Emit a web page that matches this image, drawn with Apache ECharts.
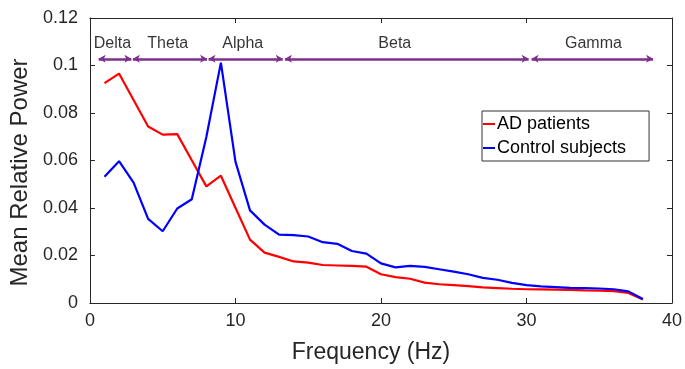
<!DOCTYPE html>
<html>
<head>
<meta charset="utf-8">
<script src="https://cdn.jsdelivr.net/npm/echarts@6/dist/echarts.min.js"></script>
<style>html,body{margin:0;padding:0;background:#fff}#c{width:685px;height:369px}</style>
</head>
<body>
<div id="c"></div>
<script>
var frequencies = [1,2,3,4,5,6,7,8,9,10,11,12,13,14,15,16,17,18,19,20,21,22,23,24,25,26,27,28,29,30,31,32,33,34,35,36,37,38];
var adPatients = [0.0926,0.0966,0.0855,0.0743,0.0709,0.0711,0.0601,0.0491,0.0536,0.0401,0.0267,0.0212,0.0194,0.0175,0.0170,0.0160,0.0158,0.0156,0.0153,0.0121,0.0109,0.0102,0.0086,0.0079,0.0075,0.0071,0.0066,0.0063,0.0060,0.0058,0.0057,0.0056,0.0055,0.0053,0.0052,0.0050,0.0042,0.0015];
var controlSubjects = [0.0532,0.0597,0.0507,0.0354,0.0302,0.0398,0.0437,0.0699,0.1012,0.0595,0.0390,0.0330,0.0288,0.0286,0.0280,0.0256,0.0249,0.0219,0.0208,0.0167,0.0150,0.0156,0.0152,0.0142,0.0132,0.0121,0.0106,0.0098,0.0085,0.0075,0.0070,0.0067,0.0064,0.0063,0.0061,0.0058,0.0049,0.0017];
var bandNames = ['Delta','Theta','Alpha','Beta','Gamma'];
var bandStart = [0.6, 2.95, 8.15, 13.4, 30.35];
var bandEnd = [2.85, 8.05, 13.25, 30.15, 38.7];
var bandLabelX = [1.55, 5.35, 10.5, 20.95, 34.6];
var seriesNames = ['AD patients','Control subjects'];

var arrowY = 0.1028, labelY = 0.1094;
var FONT = '"Liberation Sans", Arial, Helvetica, sans-serif';
var AX = '#262626';

function pairs(xs, ys){ return xs.map(function(x,i){ return [x, ys[i]]; }); }

var chart = echarts.init(document.getElementById('c'), null, {renderer:'canvas'});
function axisCommon(extra){
  return Object.assign({
    axisLine:{show:true, onZero:false, lineStyle:{color:AX, width:1}},
    axisTick:{show:true, inside:true, length:5, lineStyle:{color:AX}},
    splitLine:{show:false}
  }, extra);
}
chart.setOption({
  animation:false,
  backgroundColor:'#fff',
  grid:{left:89, top:18, width:587, height:288, containLabel:false},
  legend:{
    data:seriesNames,
    orient:'vertical',
    left:482, top:111,
    icon:'rect', itemWidth:12, itemHeight:2, itemGap:0,
    padding:[1,23,1,1],
    backgroundColor:'#fff', borderColor:'#333', borderWidth:1,
    textStyle:{fontFamily:FONT, fontSize:18, color:'#000', lineHeight:24, padding:[0,0,0,-3]},
    selectedMode:false
  },
  xAxis:[
    axisCommon({
      type:'value', min:0, max:40, interval:10, position:'bottom',
      axisLabel:{fontFamily:FONT, fontSize:18, color:AX, margin:9},
      name:'Frequency (Hz)', nameLocation:'middle', nameGap:38,
      nameTextStyle:{fontFamily:FONT, fontSize:23, color:AX, padding:[0,20,0,0]}
    }),
    axisCommon({
      type:'value', min:0, max:40, interval:10, position:'top',
      axisLabel:{show:false}
    })
  ],
  yAxis:[
    axisCommon({
      type:'value', min:0, max:0.12, interval:0.02, position:'left',
      axisLabel:{fontFamily:FONT, fontSize:18, color:AX, margin:12},
      name:'Mean Relative Power', nameLocation:'middle', nameGap:50,
      nameTextStyle:{fontFamily:FONT, fontSize:24, color:AX, padding:[0,24,0,0]}
    }),
    axisCommon({
      type:'value', min:0, max:0.12, interval:0.02, position:'right',
      axisLabel:{show:false}
    })
  ],
  series:[
    {name:seriesNames[0], type:'line', data:pairs(frequencies, adPatients), showSymbol:false, symbol:'none',
     lineStyle:{color:'#ff0000', width:2.2}, itemStyle:{color:'#ff0000'}, silent:true, z:3},
    {name:seriesNames[1], type:'line', data:pairs(frequencies, controlSubjects), showSymbol:false, symbol:'none',
     lineStyle:{color:'#0000ff', width:2.2}, itemStyle:{color:'#0000ff'}, silent:true, z:4},
    {name:'bands', type:'scatter', symbolSize:0, silent:true,
     data:bandNames.map(function(n,i){ return {value:[bandLabelX[i], labelY], name:n}; }),
     label:{show:true, position:'inside', formatter:function(p){return p.name;}, fontFamily:FONT, fontSize:16, color:'#000'},
     markLine:{
       silent:true, symbol:['arrow','arrow'], symbolSize:[6,7], precision:4,
       lineStyle:{color:'#7E2F8E', width:2.5, type:'solid'},
       label:{show:false},
       emphasis:{disabled:true},
       data:bandNames.map(function(n,i){ return [{coord:[bandStart[i], arrowY]},{coord:[bandEnd[i], arrowY]}]; })
     }}
  ]
});
</script>
</body>
</html>
